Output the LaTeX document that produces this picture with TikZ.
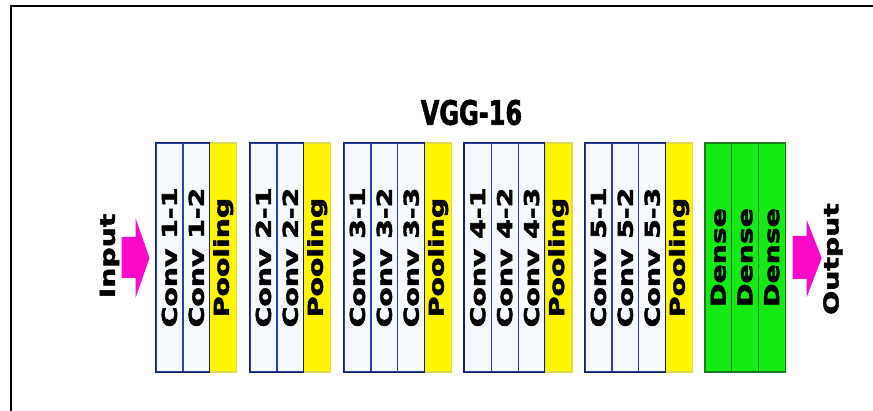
\documentclass[tikz,border=0pt]{standalone}
\usepackage{fontspec}
\setmainfont{DejaVu Sans}[BoldFeatures={FakeBold=2.2}]
\usepackage{graphicx}
\definecolor{convfill}{RGB}{246,250,255}
\definecolor{convdraw}{RGB}{35,65,180}
\definecolor{edgedark}{RGB}{25,35,80}
\definecolor{poolfill}{RGB}{255,245,0}
\definecolor{pooldraw}{RGB}{225,220,70}
\definecolor{densefill}{RGB}{20,235,20}
\definecolor{densedraw}{RGB}{30,120,30}
\definecolor{arrowc}{RGB}{250,10,200}
\newcommand\stretched[1]{\scalebox{1.38}[1]{#1}}
\newcommand\layer[4]{\pgfmathsetmacro\cx{#3+13.45}\node[#1] (#2) at (\cx,257.5) {\stretched{#4}};}
\tikzset{
  col/.style={rotate=90, minimum width=229pt, minimum height=26.9pt, inner sep=0pt,
    font=\bfseries\fontsize{20.5}{20.5}\selectfont, line width=1.2pt},
  conv/.style={col, fill=convfill, draw=convdraw},
  pool/.style={col, fill=poolfill, draw=pooldraw},
  dense/.style={col, fill=densefill, draw=densedraw, text=black, minimum height=26.7pt},
  edge/.style={draw=edgedark, line width=1.6pt},
  lbl/.style={rotate=90, inner sep=0pt, font=\bfseries\fontsize{20.5}{20.5}\selectfont},
  arrowshape/.style={fill=arrowc},
}
\begin{document}
\begin{tikzpicture}[x=1pt,y=-1pt]
\useasboundingbox (0,0) rectangle (873,411);
\fill[white] (0,0) rectangle (873,411);
\draw[line width=2pt] (11,411) -- (11,6.5) -- (873,6.5);

\node[inner sep=0pt] (title) at (471.5,112.5) {\scalebox{1}[1.4]{\bfseries\fontsize{24}{24}\selectfont VGG-16}};

% block 1
\layer{conv}{c11}{156}{Conv 1-1}
\layer{conv}{c12}{182.9}{Conv 1-2}
\layer{pool}{p1}{209.8}{Pooling}
% block 2
\layer{conv}{c21}{250}{Conv 2-1}
\layer{conv}{c22}{276.9}{Conv 2-2}
\layer{pool}{p2}{303.8}{Pooling}
% block 3
\layer{conv}{c31}{344}{Conv 3-1}
\layer{conv}{c32}{370.9}{Conv 3-2}
\layer{conv}{c33}{397.8}{Conv 3-3}
\layer{pool}{p3}{424.7}{Pooling}
% block 4
\layer{conv}{c41}{464.3}{Conv 4-1}
\layer{conv}{c42}{491.2}{Conv 4-2}
\layer{conv}{c43}{518.1}{Conv 4-3}
\layer{pool}{p4}{545}{Pooling}
% block 5
\layer{conv}{c51}{585}{Conv 5-1}
\layer{conv}{c52}{611.9}{Conv 5-2}
\layer{conv}{c53}{638.8}{Conv 5-3}
\layer{pool}{p5}{665.7}{Pooling}
% dense
\node[dense] (d1) at (718.35,257.5) {\stretched{Dense}};
\node[dense] (d2) at (745.05,257.5) {\stretched{Dense}};
\node[dense] (d3) at (771.75,257.5) {\stretched{Dense}};

% dark top and bottom edges of conv groups
\foreach \a/\b in {c11/p1,c21/p2,c31/p3,c41/p4,c51/p5}{
  \draw[edge] (\a.north east) -- (\b.north east);
  \draw[edge] (\a.north west) -- (\b.north west);
  \draw[edge] (\a.north east) -- (\a.north west);
  \draw[draw=edgedark, line width=1.2pt] (\b.north east) -- (\b.north west);
}

% input / output
\node[lbl] (in) at (109.5,256) {\stretched{Input}};
\node[lbl] (out) at (833,259) {\stretched{Output}};
\fill[arrowshape] (121.7,237) -- (135.5,237) -- (135.5,218) -- (149.5,258)
  -- (135.5,298) -- (135.5,278) -- (121.7,278) -- cycle;
\fill[arrowshape] (792.7,236) -- (806.7,236) -- (806.7,220) -- (821.7,258)
  -- (806.7,297) -- (806.7,279) -- (792.7,279) -- cycle;
\end{tikzpicture}
\end{document}
